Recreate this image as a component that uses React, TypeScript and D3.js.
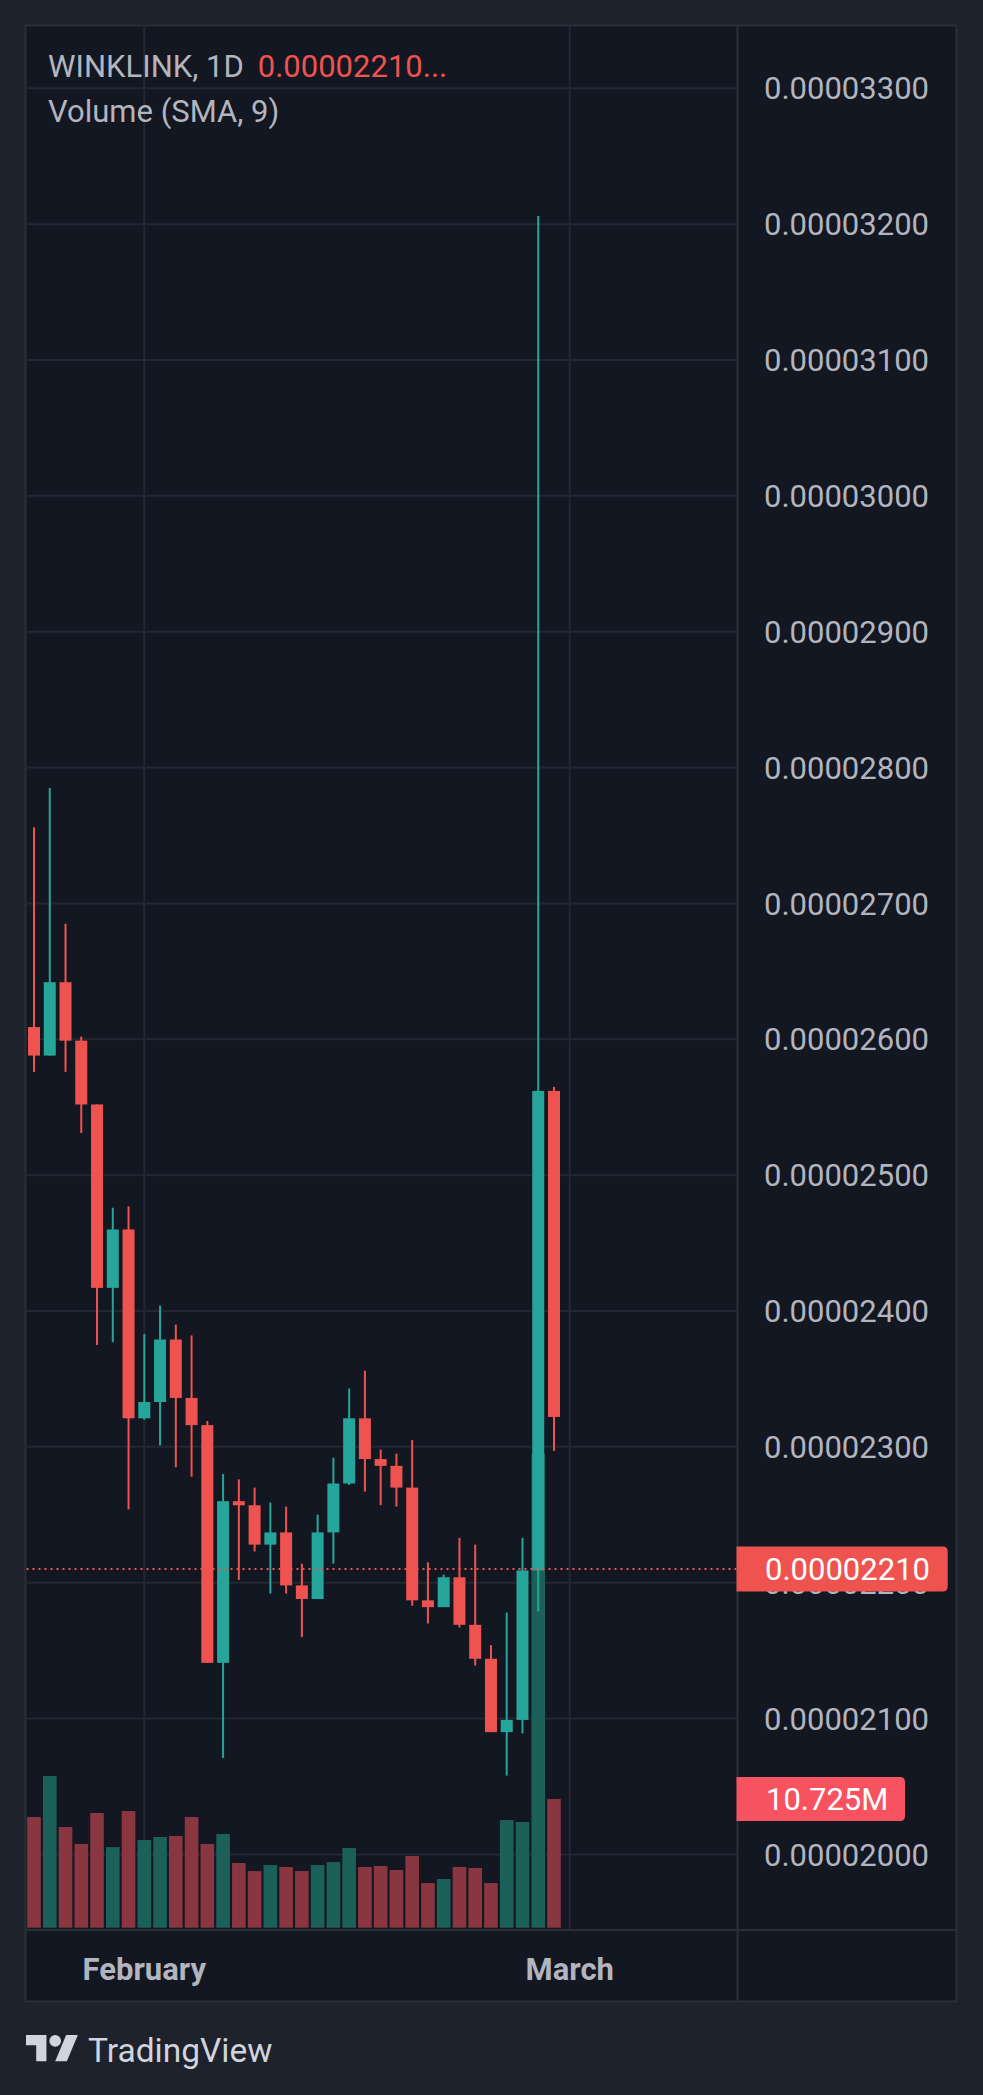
import React from "react";
import * as d3 from "d3";

// ---- data (prices in units of 1e-8) ----
const days = [
  "Jan 25", "Jan 26", "Jan 27", "Jan 28", "Jan 29", "Jan 30", "Jan 31",
  "Feb 1", "Feb 2", "Feb 3", "Feb 4", "Feb 5", "Feb 6", "Feb 7", "Feb 8", "Feb 9",
  "Feb 10", "Feb 11", "Feb 12", "Feb 13", "Feb 14", "Feb 15", "Feb 16", "Feb 17",
  "Feb 18", "Feb 19", "Feb 20", "Feb 21", "Feb 22", "Feb 23", "Feb 24", "Feb 25",
  "Feb 26", "Feb 27",
];
const opens = [2609, 2588, 2642, 2599, 2552, 2417, 2460, 2321, 2333, 2379, 2336, 2316, 2141, 2260, 2257, 2228, 2237, 2198, 2188, 2237, 2273, 2321, 2291, 2286, 2270, 2187, 2182, 2204, 2169, 2144, 2090, 2099, 2209, 2562];
const highs = [2756, 2785, 2685, 2602, 2552, 2476, 2477, 2383, 2404, 2390, 2382, 2319, 2280, 2276, 2270, 2259, 2256, 2214, 2250, 2292, 2343, 2356, 2298, 2295, 2305, 2215, 2206, 2233, 2228, 2154, 2178, 2233, 3206, 2565];
const lows = [2576, 2588, 2576, 2531, 2375, 2377, 2254, 2320, 2301, 2285, 2278, 2141, 2071, 2202, 2223, 2192, 2192, 2160, 2188, 2214, 2272, 2267, 2257, 2256, 2183, 2170, 2182, 2167, 2139, 2090, 2058, 2089, 2179, 2297];
const closes = [2588, 2642, 2599, 2552, 2417, 2460, 2321, 2333, 2379, 2336, 2316, 2141, 2260, 2257, 2228, 2237, 2198, 2188, 2237, 2273, 2321, 2291, 2286, 2270, 2187, 2182, 2204, 2169, 2144, 2090, 2099, 2209, 2562, 2322];
const volumesM = [9.22, 12.64, 8.39, 6.97, 9.56, 6.72, 9.72, 7.31, 7.56, 7.64, 9.22, 6.97, 7.81, 5.39, 4.72, 5.22, 5.06, 4.72, 5.22, 5.47, 6.64, 5.06, 5.14, 4.81, 5.97, 3.72, 4.06, 5.06, 4.97, 3.72, 8.97, 8.81, 39.47, 10.725];
const priceTicks = [2000, 2100, 2200, 2300, 2400, 2500, 2600, 2700, 2800, 2900, 3000, 3100, 3200, 3300];
const timeTickLabels = ["February", "March"];
const timeTickIndex = [7, 34];
const lastPrice = 2210;
const lastVolumeLabel = "10.725M";
const symbolLabel = "WINKLINK, 1D";
const ohlcLabel = "0.00002210...";
const volumeLabel = "Volume (SMA, 9)";

// ---- style ----
const W = 983;
const H = 2095;
const BG_OUT = "#1e222d";
const BG = "#131722";
const GRID = "#232733";
const BORDER = "#2a2e39";
const TXT = "#b2b5be";
const UP = "#26a69a";
const DOWN = "#ef5350";
const VOL_UP = "#1c605a";
const VOL_DOWN = "#8a3641";
const FONT = "Roboto, 'Noto Sans', sans-serif";

const panelL = 25.5, panelT = 25.5, panelR = 956.5, panelB = 2001.5;
const axisX = 737.5;
const timeY = 1930;

const fmt = (v: number) => (v * 1e-8).toFixed(8);

export default function App() {
  const x = d3.scaleLinear().domain([0, 33]).range([34, 554]);
  const y = d3.scaleLinear().domain([2000, 3300]).range([1854.4, 88.3]);
  const v = d3.scaleLinear().domain([0, 10.725]).range([1927.7, 1799]);
  const bodyW = 12;
  const volW = 13.6;

  const tagPath = (x0: number, y0: number, x1: number, y1: number, r: number) =>
    `M${x0},${y0}H${x1 - r}Q${x1},${y0} ${x1},${y0 + r}V${y1 - r}Q${x1},${y1} ${x1 - r},${y1}H${x0}Z`;

  const pY = y(lastPrice);
  const lastVol = volumesM[volumesM.length - 1];

  return (
    <svg
      width={W}
      height={H}
      style={{ position: "absolute", left: 0, top: 0, display: "block" }}
      fontFamily={FONT}
    >
      <rect x={0} y={0} width={W} height={H} fill={BG_OUT} />
      <rect
        x={panelL}
        y={panelT}
        width={panelR - panelL}
        height={panelB - panelT}
        fill={BG}
        stroke={BORDER}
        strokeWidth={2}
      />
      {/* horizontal grid */}
      {priceTicks.map((t) => (
        <line key={"g" + t} x1={panelL} x2={axisX} y1={y(t)} y2={y(t)} stroke={GRID} strokeWidth={2} />
      ))}
      {/* vertical grid */}
      {timeTickIndex.map((ti, k) => (
        <line key={"vg" + k} x1={x(ti)} x2={x(ti)} y1={panelT} y2={timeY} stroke={GRID} strokeWidth={2} />
      ))}
      {/* volume bars */}
      {volumesM.map((vol, i) => (
        <rect
          key={"v" + i}
          x={x(i) - volW / 2}
          y={v(vol)}
          width={volW}
          height={v(0) - v(vol)}
          fill={closes[i] >= opens[i] ? VOL_UP : VOL_DOWN}
        />
      ))}
      {/* candles */}
      {days.map((d, i) => {
        const up = closes[i] >= opens[i];
        const c = up ? UP : DOWN;
        const yo = y(opens[i]);
        const yc = y(closes[i]);
        const top = Math.min(yo, yc);
        const h = Math.max(1.5, Math.abs(yo - yc));
        return (
          <g key={d}>
            <rect x={x(i) - 1} y={y(highs[i])} width={2} height={y(lows[i]) - y(highs[i])} fill={c} />
            <rect x={x(i) - bodyW / 2} y={top} width={bodyW} height={h} fill={c} />
          </g>
        );
      })}
      {/* last price line */}
      <line x1={panelL + 1} x2={axisX} y1={pY} y2={pY} stroke={DOWN} strokeWidth={2} strokeDasharray="2 4" />

      {/* axes separators */}
      <line x1={axisX} x2={axisX} y1={panelT} y2={panelB} stroke={BORDER} strokeWidth={2} />
      <line x1={panelL} x2={panelR} y1={timeY} y2={timeY} stroke={BORDER} strokeWidth={2} />

      {/* price axis labels */}
      {priceTicks.map((t) => (
        <text key={"l" + t} x={764} y={y(t)} dy="0.36em" fontSize={31} fill={TXT}>
          {fmt(t)}
        </text>
      ))}
      {/* price tag */}
      <path d={tagPath(axisX - 1, pY - 22.5, 947.7, pY + 22.5, 5)} fill={DOWN} />
      <text x={765} y={pY} dy="0.36em" fontSize={31} fill="#ffffff">
        {fmt(lastPrice)}
      </text>
      {/* volume tag */}
      <path d={tagPath(axisX - 1, v(lastVol) - 22, 905, v(lastVol) + 22, 5)} fill="#f7525f" />
      <text x={766} y={v(lastVol)} dy="0.36em" fontSize={31} fill="#ffffff">
        {lastVolumeLabel}
      </text>

      {/* time labels */}
      {timeTickLabels.map((lab, k) => (
        <text key={lab} x={x(timeTickIndex[k])} y={1980} textAnchor="middle" fontSize={31} fontWeight="bold" fill={TXT}>
          {lab}
        </text>
      ))}

      {/* legend */}
      <text x={48} y={77} fontSize={31} fill={TXT}>
        {symbolLabel}
        <tspan dx={14} fill={DOWN}>{ohlcLabel}</tspan>
      </text>
      <text x={48} y={122} fontSize={31} fill={TXT}>
        {volumeLabel}
      </text>

      {/* TradingView logo */}
      <g transform="translate(26,2029.2) scale(1.46)" fill="#d1d4dc">
        <path d="M14 22H7V11H0V4h14v18z" />
        <path d="M28 22h-8l7.5-18h8L28 22z" />
        <circle cx={20} cy={8} r={4} />
      </g>
      <text x={88} y={2062} fontSize={33.5} fill="#d1d4dc">
        TradingView
      </text>
    </svg>
  );
}
